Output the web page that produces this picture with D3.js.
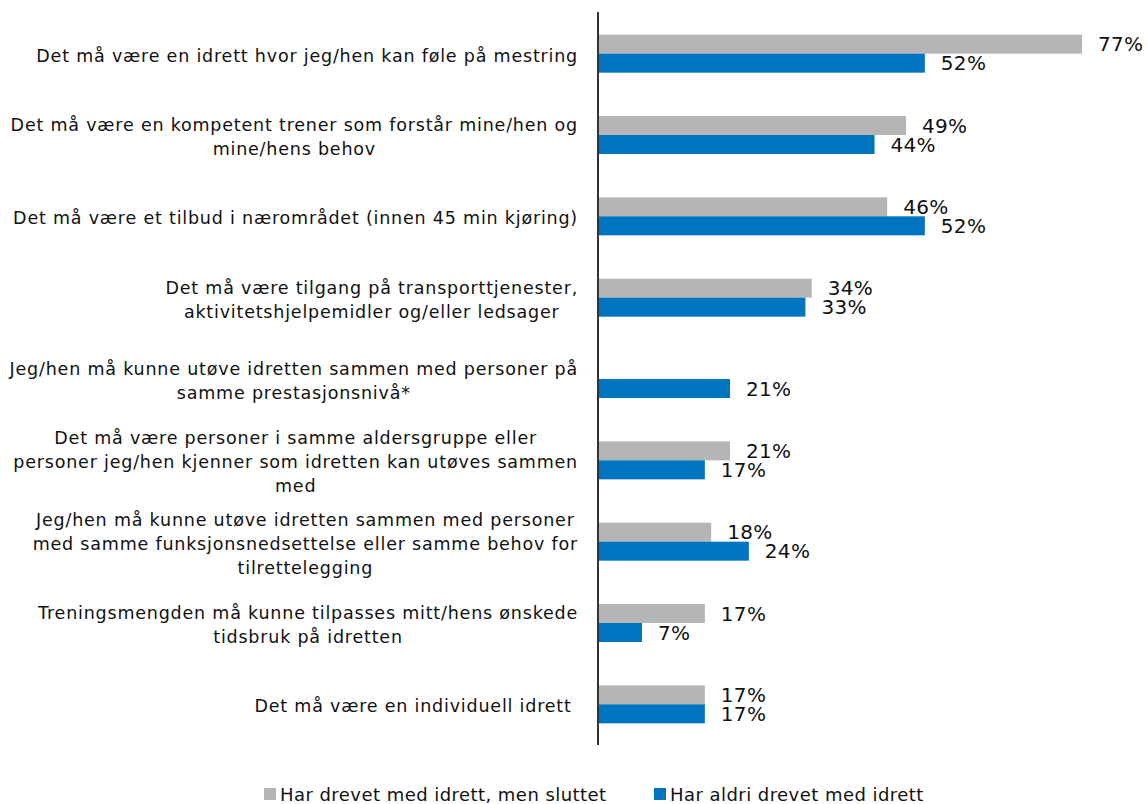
<!DOCTYPE html>
<html><head><meta charset="utf-8">
<script src="https://cdn.jsdelivr.net/npm/d3@7"></script>
<style>
body{margin:0;background:#fff;}
svg text{font-family:"Century Gothic","URW Gothic","DejaVu Sans",sans-serif;fill:#111;}
</style></head>
<body><svg id="c" width="1148" height="804"></svg>
<script>
const categories = [
  ["Det må være en idrett hvor jeg/hen kan føle på mestring"],
  ["Det må være en kompetent trener som forstår mine/hen og","mine/hens behov"],
  ["Det må være et tilbud i nærområdet (innen 45 min kjøring)"],
  ["Det må være tilgang på transporttjenester,","aktivitetshjelpemidler og/eller ledsager"],
  ["Jeg/hen må kunne utøve idretten sammen med personer på","samme prestasjonsnivå*"],
  ["Det må være personer i samme aldersgruppe eller","personer jeg/hen kjenner som idretten kan utøves sammen","med"],
  ["Jeg/hen må kunne utøve idretten sammen med personer","med samme funksjonsnedsettelse eller samme behov for","tilrettelegging"],
  ["Treningsmengden må kunne tilpasses mitt/hens ønskede","tidsbruk på idretten"],
  ["Det må være en individuell idrett "]
];
const seriesNames = ["Har drevet med idrett, men sluttet","Har aldri drevet med idrett"];
const stoppedValues = [77,49,46,34,null,21,18,17,17];
const neverValues   = [52,44,52,33,21,17,24,7,17];
const colors = ["#b4b5b7","#0075bf"];

const svg = d3.select("#c");
const x0 = 598;
const x = d3.scaleLinear().domain([0,77]).range([x0,1082]);
const y = d3.scaleBand().domain(d3.range(categories.length)).range([13,745]).paddingInner(0).paddingOuter(0);
const bh = 19;
const series = [stoppedValues, neverValues];

// bars
series.forEach((vals,si)=>{
  const g = svg.append("g");
  vals.forEach((v,i)=>{
    if(v==null) return;
    const cy = y(i)+y.bandwidth()/2;
    const top = si===0 ? cy-bh : cy;
    g.append("rect").attr("x",x(0)).attr("y",top).attr("width",x(v)-x(0)).attr("height",bh)
      .attr("fill",colors[si]);
    g.append("text").attr("x",x(v)+16).attr("y",top+bh/2).attr("dy","0.36em")
      .attr("font-size",20).attr("letter-spacing","0.3px").text(v+"%");
  });
});

// axis line
svg.append("line").attr("x1",x0).attr("x2",x0).attr("y1",12).attr("y2",745)
  .attr("stroke","#333").attr("stroke-width",2);

// category labels
const lh = 24;
const fs = 17.5;
categories.forEach((lines,i)=>{
  const cy = y(i)+y.bandwidth()/2 + 2;
  const t = svg.append("text").attr("font-size",fs).attr("letter-spacing","0.8px")
    .attr("text-anchor","middle").style("white-space","pre");
  const spans = lines.map((l,k)=> t.append("tspan").attr("y", cy + (k-(lines.length-1)/2)*lh).attr("dy","0.35em").text(l));
  const w = d3.max(spans, s=>s.node().getComputedTextLength());
  spans.forEach(s=>s.attr("x", 578 - w/2));
});

// legend
const leg = [{x:264},{x:654}];
seriesNames.forEach((n,i)=>{
  svg.append("rect").attr("x",leg[i].x).attr("y",788).attr("width",12).attr("height",12).attr("fill",colors[i]);
  svg.append("text").attr("x",leg[i].x+16).attr("y",795).attr("dy","0.36em").attr("font-size",18)
    .attr("letter-spacing","0.45px").text(n);
});
</script></body></html>
